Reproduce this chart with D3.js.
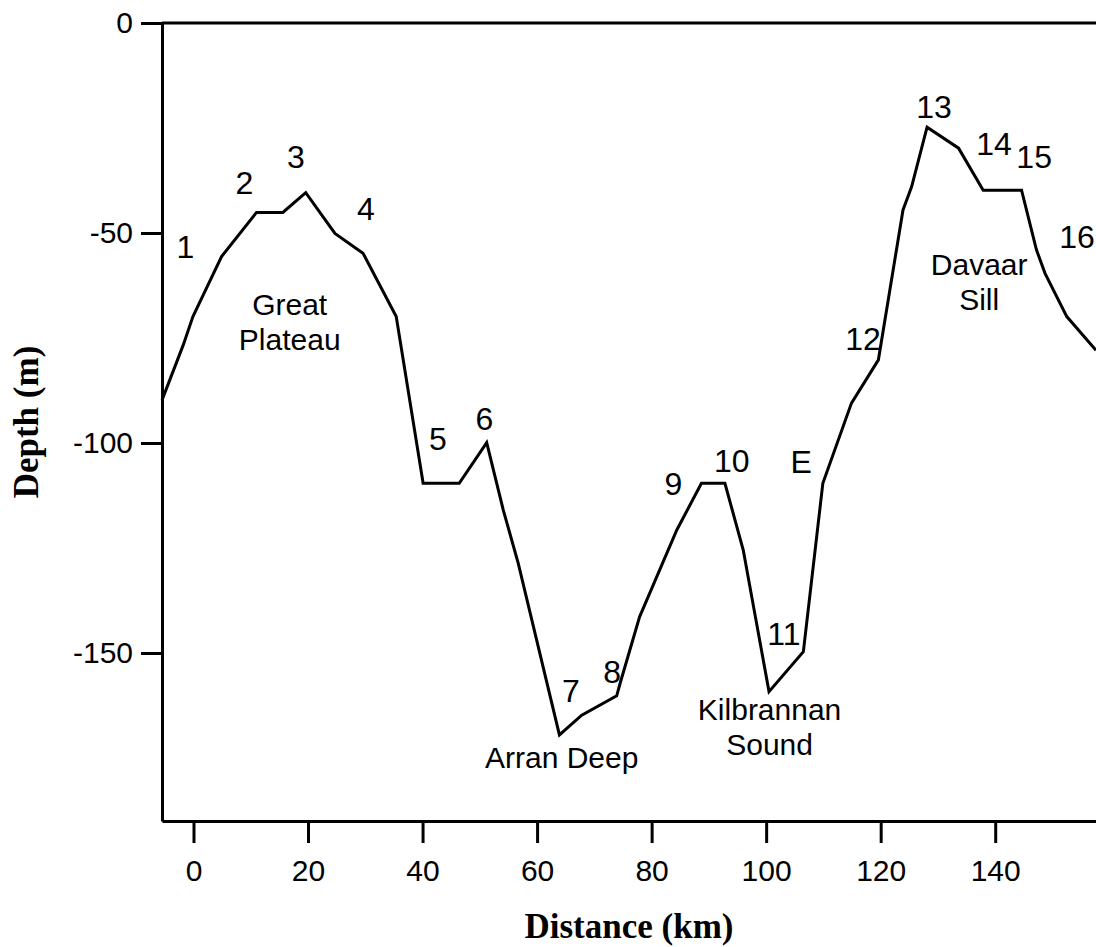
<!DOCTYPE html>
<html lang="en">
	<head>
		<meta charset="utf-8">
		<script src="https://cdn.jsdelivr.net/npm/d3@7"></script>
		<style>
			body { margin: 0; background: #fff; }
			text { font-family: "Liberation Sans", Arial, sans-serif; font-size: 30px; fill: #000; }
			.station { font-size: 32px; }
			.place { font-size: 30px; }
			.title { font-family: "Liberation Serif", "Times New Roman", serif; font-weight: bold; font-size: 35px; }
		</style>
	</head>
	<body>
		<div id="chart"></div>
		<script type="text/javascript">

			//Width and height
			var w = 1096;
			var h = 947;

			//profile along the section: distance (km) and depth (m)
			var distance = [-5.5, -1.8, -0.1, 4.9, 11.0, 15.6, 19.6, 24.7, 29.6, 35.4, 40.1, 46.4, 51.2, 54.1, 56.7,
				63.9, 67.8, 73.9, 74.5, 77.9, 84.4, 88.7, 92.8, 96.0, 100.5, 106.5, 109.9, 114.9, 119.6,
				123.9, 125.4, 128.1, 133.6, 137.9, 144.6, 147.2, 148.7, 152.5, 157.6];
			var depth = [-89.8, -76.7, -69.9, -55.6, -45.1, -45.1, -40.4, -50.1, -54.8, -69.9, -109.6, -109.6, -99.9, -116.0, -128.6,
				-169.5, -164.8, -160.2, -157.2, -141.4, -120.7, -109.6, -109.6, -125.5, -159.2, -149.7, -109.6, -90.5, -80.2,
				-44.5, -39.0, -24.8, -29.8, -39.8, -39.8, -54.0, -59.6, -69.9, -77.9];

			//tick values
			var xTicks = [0, 20, 40, 60, 80, 100, 120, 140];
			var yTicks = [0, -50, -100, -150];

			//station numbers and place names (anchor in km / m)
			var stationNames = ["1", "2", "3", "4", "5", "6", "7", "8", "9", "10", "E", "11", "12", "13", "14", "15", "16"];
			var stationKm = [-1.4, 8.9, 17.9, 30.1, 42.7, 50.8, 65.9, 73.1, 83.8, 94.0, 106.1, 103.1, 116.9, 129.3, 139.8, 146.8, 154.3];
			var stationDepth = [-56.0, -40.7, -34.5, -46.9, -101.7, -96.9, -161.7, -157.1, -112.4, -106.9, -107.1, -148.1, -77.9, -22.6, -31.4, -34.5, -53.6];

			var placeNames = ["Great", "Plateau", "Arran Deep", "Kilbrannan", "Sound", "Davaar", "Sill"];
			var placeKm = [16.8, 16.8, 64.3, 100.6, 100.6, 137.2, 137.2];
			var placeDepth = [-69.5, -77.8, -177.4, -166.0, -174.3, -60.1, -68.4];

			var profile = distance.map((d, i) => ({x: d, y: depth[i]}));

			//scales
			var x = d3.scaleLinear()
				.domain([-5.5, 157.6])
				.range([162, 1096]);
			var y = d3.scaleLinear()
				.domain([-190, 0])
				.range([821, 23]);

			var svg = d3.select("#chart")
				.append("svg")
				.attr("width", w)
				.attr("height", h);

			svg.append("rect")
				.attr("width", w)
				.attr("height", h)
				.attr("fill", "#fff");

			//x axis at the bottom
			svg.append("g")
				.attr("transform", "translate(0," + y(-190) + ")")
				.call(d3.axisBottom(x).tickValues(xTicks).tickSize(22).tickPadding(17).tickSizeOuter(0));

			//y axis on the left (plain hyphen for the minus sign like the original)
			svg.append("g")
				.attr("transform", "translate(" + x(-5.5) + ",0)")
				.call(d3.axisLeft(y).tickValues(yTicks).tickFormat(d => String(d)).tickSize(21).tickPadding(8).tickSizeOuter(0));

			svg.selectAll(".domain, .tick line")
				.attr("stroke", "#000")
				.attr("stroke-width", 3);
			svg.selectAll(".tick text")
				.attr("font-size", null)
				.attr("font-family", null);

			//top line at sea level
			svg.append("line")
				.attr("x1", x(-5.5))
				.attr("x2", w)
				.attr("y1", y(0))
				.attr("y2", y(0))
				.attr("stroke", "#000")
				.attr("stroke-width", 3);

			//bottom profile
			var line = d3.line()
				.x(d => x(d.x))
				.y(d => y(d.y));

			svg.append("path")
				.datum(profile)
				.attr("d", line)
				.attr("fill", "none")
				.attr("stroke", "#000")
				.attr("stroke-width", 3)
				.attr("stroke-linejoin", "miter");

			//station labels
			svg.selectAll(".station")
				.data(stationNames)
				.enter()
				.append("text")
				.attr("class", "station")
				.attr("x", (d, i) => x(stationKm[i]))
				.attr("y", (d, i) => y(stationDepth[i]))
				.attr("text-anchor", "middle")
				.text(d => d);

			//place labels
			svg.selectAll(".place")
				.data(placeNames)
				.enter()
				.append("text")
				.attr("class", "place")
				.attr("x", (d, i) => x(placeKm[i]))
				.attr("y", (d, i) => y(placeDepth[i]))
				.attr("text-anchor", "middle")
				.text(d => d);

			//axis titles
			svg.append("text")
				.attr("class", "title")
				.attr("x", 629)
				.attr("y", 938)
				.attr("text-anchor", "middle")
				.text("Distance (km)");

			svg.append("text")
				.attr("class", "title")
				.attr("transform", "translate(38,422) rotate(-90)")
				.attr("text-anchor", "middle")
				.text("Depth (m)");

		</script>
	</body>
</html>
